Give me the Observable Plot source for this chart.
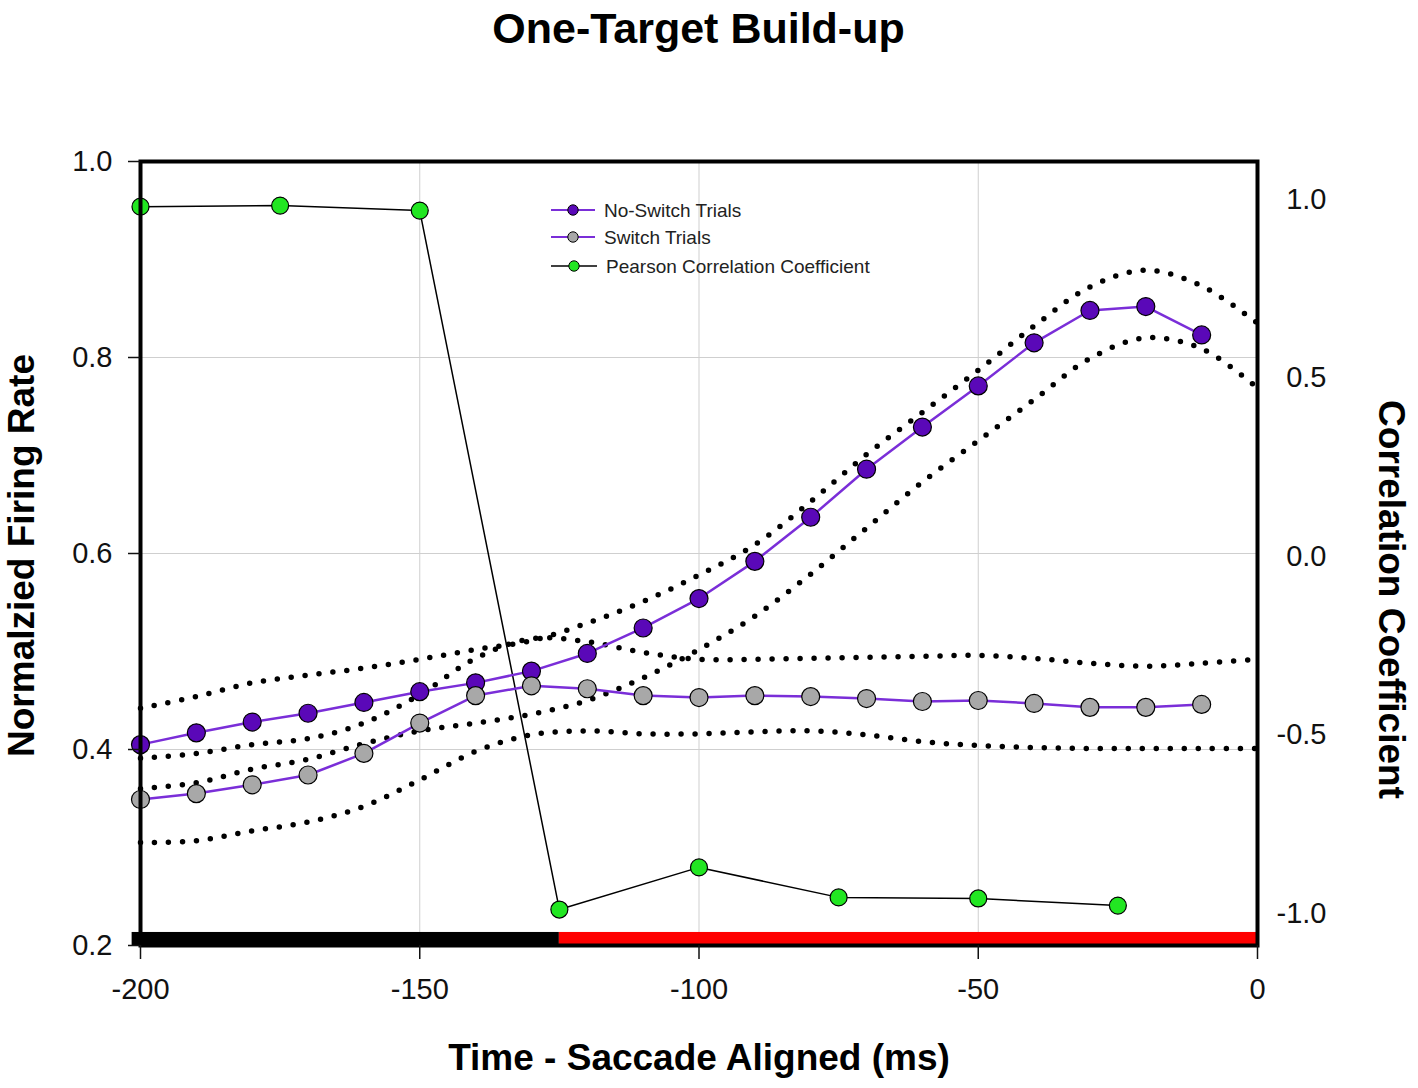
<!DOCTYPE html>
<html><head><meta charset="utf-8">
<script src="https://cdn.jsdelivr.net/npm/d3@7"></script>
<script src="https://cdn.jsdelivr.net/npm/@observablehq/plot@0.6"></script>
<style>
body{margin:0;background:#fff;font-family:"Liberation Sans",Arial,sans-serif;}
#wrap{position:relative;width:1418px;height:1088px;overflow:hidden;}
#title{height:60px;line-height:56px;font-weight:bold;font-size:43px;text-align:center;box-sizing:border-box;width:1418px;padding-right:21px;color:#000;}
#legend{position:absolute;left:0;top:0;pointer-events:none;}
</style></head><body>
<div id="wrap">
<div id="title">One-Target Build-up</div>
<div id="chart"></div>
<svg id="legend" width="1418" height="320"></svg>
</div>
<script>
// ---- data ----
const time = [-200,-190,-180,-170,-160,-150,-140,-130,-120,-110,-100,-90,-80,-70,-60,-50,-40,-30,-20,-10];
const noSwitch = [0.405,0.417,0.428,0.437,0.448,0.459,0.468,0.480,0.498,0.524,0.554,0.592,0.637,0.686,0.729,0.771,0.815,0.848,0.852,0.823];
const switchTrials = [0.349,0.355,0.364,0.374,0.396,0.427,0.455,0.465,0.462,0.455,0.453,0.455,0.454,0.452,0.449,0.450,0.447,0.443,0.443,0.446];

const bandTime = [-200,-190,-180,-170,-160,-150,-140,-130,-120,-110,-100,-90,-80,-70,-60,-50,-40,-30,-20,-10,0];
const noSwitchUpper = [0.442,0.454,0.468,0.476,0.483,0.492,0.502,0.511,0.529,0.551,0.578,0.609,0.653,0.701,0.744,0.787,0.832,0.872,0.889,0.873,0.835];
const noSwitchLower = [0.360,0.366,0.380,0.390,0.406,0.419,0.427,0.436,0.450,0.473,0.502,0.536,0.579,0.626,0.673,0.715,0.757,0.799,0.820,0.809,0.769];
const switchUpper = [0.391,0.396,0.405,0.411,0.427,0.456,0.493,0.513,0.510,0.499,0.492,0.492,0.493,0.494,0.495,0.496,0.493,0.488,0.485,0.488,0.492];
const switchLower = [0.305,0.307,0.317,0.326,0.342,0.369,0.398,0.415,0.419,0.416,0.416,0.418,0.419,0.415,0.408,0.404,0.402,0.401,0.401,0.401,0.401];

const pearsonTime = [-200,-175,-150,-125,-100,-75,-50,-25];
const pearson = [0.980,0.983,0.969,-0.989,-0.871,-0.955,-0.958,-0.978];

const xTicks = [-200,-150,-100,-50,0];
const yTicks = [0.2,0.4,0.6,0.8,1.0];
const rTicks = [-1.0,-0.5,0.0,0.5,1.0];
const gridXs = [-150,-100,-50];
const gridYs = [0.4,0.6,0.8];

const epochStart = [-201.5,-125];
const epochEnd = [-125,0];
const epochColor = ["#000000","#ff0000"];
const epochY = [0.2,0.2133];

// right axis alignment: correlation 1.0 and -1.0 in firing-rate units
const rAt = {hi: 0.9612, lo: 0.2327};
const ra = (rAt.hi - rAt.lo) / 2, rb = (rAt.hi + rAt.lo) / 2;
const toLeft = r => rb + ra * r;

// ---- tables ----
const rows = (xs, ys) => xs.map((x, i) => ({x, y: ys[i]}));
const nsData = rows(time, noSwitch);
const swData = rows(time, switchTrials);
const bands = [noSwitchUpper, noSwitchLower, switchUpper, switchLower].map(b => rows(bandTime, b));
const prData = pearsonTime.map((x, i) => ({x, y: toLeft(pearson[i])}));
const epochs = epochStart.map((s, i) => ({x1: s, x2: epochEnd[i], fill: epochColor[i]}));

const FONT = '"Liberation Sans", Arial, sans-serif';
const PURPLE_LINE = "#7a2ed8", PURPLE_FILL = "#5a08b8", GRAY_FILL = "#a8a8a8", GREEN_FILL = "#22e622";

const marks = [
  Plot.gridX(gridXs, {stroke: "#cfcfcf", strokeOpacity: 1, strokeWidth: 1}),
  Plot.gridY(gridYs, {stroke: "#cfcfcf", strokeOpacity: 1, strokeWidth: 1}),
  Plot.rectY(epochs, {x1: "x1", x2: "x2", y1: epochY[0], y2: epochY[1], fill: "fill", clip: false}),
  ...bands.map(b => Plot.line(b, {x: "x", y: "y", curve: "catmull-rom", stroke: "#000", strokeWidth: 5.5, strokeDasharray: "0,14", strokeLinecap: "round"})),
  Plot.line(prData, {x: "x", y: "y", stroke: "#000", strokeWidth: 1.5}),
  Plot.line(nsData, {x: "x", y: "y", stroke: PURPLE_LINE, strokeWidth: 2.5}),
  Plot.line(swData, {x: "x", y: "y", stroke: PURPLE_LINE, strokeWidth: 2.5}),
  Plot.dot(nsData, {x: "x", y: "y", r: 9, fill: PURPLE_FILL, stroke: "#000", strokeWidth: 1.2}),
  Plot.dot(swData, {x: "x", y: "y", r: 9, fill: GRAY_FILL, stroke: "#000", strokeWidth: 1.2}),
  Plot.dot(prData, {x: "x", y: "y", r: 8.5, fill: GREEN_FILL, stroke: "#000", strokeWidth: 1.2}),
  Plot.frame({stroke: "#000", strokeWidth: 4}),
  Plot.axisY(yTicks, {tickSize: 12, tickPadding: 16, fontSize: 29, tickFormat: d => d.toFixed(1), label: null, strokeWidth: 1.5}),
  Plot.axisX(xTicks, {tickSize: 14, tickPadding: 19, fontSize: 29, tickFormat: d => String(d), label: null, strokeWidth: 1.5}),
  Plot.text(rTicks, {x: 0, y: d => toLeft(d), text: d => (Math.round(d * 10) / 10).toFixed(1), textAnchor: "end", dx: 69, fontSize: 29, fill: "#111"}),
  Plot.text(["Normalzied Firing Rate"], {frameAnchor: "left", textAnchor: "middle", lineAnchor: "middle", dx: -118, dy: 2, rotate: -90, fontSize: 37, fontWeight: "bold", fill: "#000"}),
  Plot.text(["Correlation Coefficient"], {frameAnchor: "right", textAnchor: "middle", lineAnchor: "middle", dx: 133, dy: 46, rotate: 90, fontSize: 37, fontWeight: "bold", fill: "#000"}),
  Plot.text(["Time - Saccade Aligned (ms)"], {frameAnchor: "bottom", textAnchor: "middle", lineAnchor: "middle", dy: 113, fontSize: 37, fontWeight: "bold", fill: "#000"})
];

const chart = Plot.plot({
  width: 1418,
  height: 1028,
  marginTop: 101,
  marginBottom: 143,
  marginLeft: 140,
  marginRight: 161,
  style: {fontFamily: FONT, background: "#fff", color: "#111", overflow: "visible"},
  x: {domain: [-200, 0]},
  y: {domain: [0.2, 1.0]},
  marks
});
document.getElementById("chart").appendChild(chart);

// ---- legend ----
const legendItems = [
  {label: "No-Switch Trials", line: PURPLE_LINE, lw: 2, fill: PURPLE_FILL},
  {label: "Switch Trials", line: PURPLE_LINE, lw: 2, fill: GRAY_FILL},
  {label: "Pearson Correlation Coefficient", line: "#000", lw: 1.5, fill: GREEN_FILL}
];
const legendRowY = [210, 237, 266];
const lg = d3.select("#legend");
legendItems.forEach((it, i) => {
  const y = legendRowY[i];
  const x0 = 551, x1 = i === 2 ? 597 : 595, cx = (x0 + x1) / 2;
  lg.append("line").attr("x1", x0).attr("x2", x1).attr("y1", y).attr("y2", y).attr("stroke", it.line).attr("stroke-width", it.lw);
  lg.append("circle").attr("cx", cx).attr("cy", y).attr("r", 5.2).attr("fill", it.fill).attr("stroke", "#000").attr("stroke-width", 1);
  lg.append("text").attr("x", i === 2 ? 606 : 604).attr("y", y).attr("dy", "0.35em").attr("font-family", FONT).attr("font-size", 19).attr("fill", "#222").text(it.label);
});
</script>
</body></html>
